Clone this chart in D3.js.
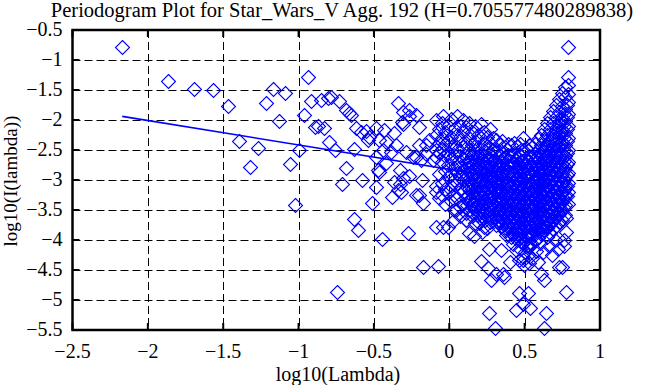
<!DOCTYPE html>
<html>
<head>
<meta charset="utf-8">
<script src="https://cdn.jsdelivr.net/npm/d3@7"></script>
<style>
  body { margin: 0; background: #fff; }
  svg { display: block; }
  text { font-family: "Liberation Serif", "Times New Roman", Times, serif; }
</style>
</head>
<body>
<div id="chart"></div>
<script>
const title = 'Periodogram Plot for Star_Wars_V Agg. 192 (H=0.705577480289838)'
const xLabel = 'log10(Lambda)'
const yLabel = 'log10(I(lambda))'
const xTicks = [-2.5, -2, -1.5, -1, -0.5, 0, 0.5, 1]
const yTicks = [-0.5, -1, -1.5, -2, -2.5, -3, -3.5, -4, -4.5, -5, -5.5]

// lower frequencies, read one by one
const sparsePts = [
  [-2.17, -0.79], [-1.869, -1.345], [-1.693, -1.48], [-1.568, -1.5], [-1.471, -1.76],
  [-1.392, -2.35], [-1.325, -2.79], [-1.267, -2.46], [-1.216, -1.71], [-1.17, -1.48],
  [-1.129, -2.02], [-1.091, -1.545], [-1.056, -2.73], [-1.024, -3.42], [-0.994, -2.5],
  [-0.966, -1.92], [-0.94, -1.28], [-0.915, -1.68], [-0.891, -2.12], [-0.869, -2.1],
  [-0.848, -1.66], [-0.828, -2.14], [-0.808, -1.63], [-0.8, -2.36], [-0.785, -1.62],
  [-0.755, -2.5], [-0.746, -4.86], [-0.73, -1.68], [-0.712, -3.06], [-0.686, -1.83],
  [-0.686, -2.8], [-0.664, -1.88], [-0.653, -1.92], [-0.63, -2.49], [-0.63, -3.65],
  [-0.62, -2.14], [-0.604, -3.84], [-0.586, -2.2], [-0.576, -3.0], [-0.553, -2.18],
  [-0.54, -2.33], [-0.53, -2.28], [-0.51, -3.38], [-0.487, -2.14], [-0.487, -2.61],
  [-0.487, -3.12], [-0.476, -2.83], [-0.465, -2.33], [-0.465, -2.86], [-0.447, -3.98],
  [-0.443, -2.5], [-0.43, -2.17], [-0.42, -2.36], [-0.42, -2.72], [-0.387, -2.53],
  [-0.383, -3.29], [-0.365, -2.22], [-0.365, -3.03], [-0.354, -2.42], [-0.343, -1.72],
  [-0.343, -3.17], [-0.33, -2.83], [-0.33, -3.06], [-0.32, -3.2], [-0.314, -2.03],
  [-0.31, -1.86], [-0.31, -2.06], [-0.31, -2.97], [-0.29, -2.53], [-0.272, -3.88],
  [-0.266, -1.83], [-0.266, -1.94], [-0.266, -2.94], [-0.243, -2.61], [-0.22, -1.92],
  [-0.22, -2.61], [-0.22, -3.25], [-0.2, -2.11], [-0.2, -2.42], [-0.2, -3.25],
  [-0.19, -2.67], [-0.18, -3.0], [-0.177, -3.39], [-0.177, -4.45], [-0.155, -2.42],
  [-0.155, -2.56], [-0.133, -2.33], [-0.11, -2.67], [-0.088, -2.0], [-0.088, -3.78],
  [-0.077, -4.44], [-0.044, -1.94], [-0.044, -3.78], [-0.01, -3.79]
]

// the dense cloud at high frequencies, column by column
const denseCols = [
  [-0.09, [-2.25, -2.5, -2.62, -3.1, -3.2]],
  [-0.07, [-2.15, -2.38, -2.55, -2.9, -3.3]],
  [-0.05, [-2.05, -2.3, -2.48, -2.7, -3.05, -3.25]],
  [-0.03, [-2.2, -2.4, -2.6, -2.85, -3.15, -3.4]],
  [-0.01, [-2.1, -2.35, -2.55, -2.75, -2.95, -3.2]],
  [0.01, [-1.98, -2.28, -2.45, -2.65, -2.9, -3.1, -3.35]],
  [0.03, [-2.15, -2.4, -2.58, -2.8, -3.0, -3.25, -3.5]],
  [0.05, [-1.94, -2.25, -2.5, -2.7, -2.88, -3.05, -3.3]],
  [0.07, [-2.1, -2.33, -2.6, -2.78, -2.95, -3.15, -3.45, -3.6]],
  [0.09, [-2.0, -2.2, -2.45, -2.65, -2.85, -3.0, -3.2, -3.4]],
  [0.11, [-2.12, -2.38, -2.55, -2.72, -2.9, -3.1, -3.3, -3.55, -3.67]],
  [0.13, [-2.05, -2.3, -2.5, -2.68, -2.82, -2.98, -3.15, -3.35, -3.5]],
  [0.15, [-2.2, -2.42, -2.6, -2.76, -2.92, -3.05, -3.22, -3.4, -3.6]],
  [0.17, [-2.1, -2.35, -2.52, -2.7, -2.86, -3.0, -3.18, -3.32, -3.48, -3.72]],
  [0.19, [-2.25, -2.45, -2.62, -2.8, -2.95, -3.1, -3.25, -3.42, -3.58]],
  [0.21, [-2.06, -2.3, -2.55, -2.72, -2.88, -3.02, -3.16, -3.3, -3.5, -3.65]],
  [0.23, [-2.2, -2.4, -2.6, -2.78, -2.92, -3.08, -3.22, -3.38, -3.55]],
  [0.25, [-2.28, -2.48, -2.66, -2.82, -2.97, -3.12, -3.28, -3.45, -3.6, -3.8]],
  [0.27, [-2.15, -2.38, -2.56, -2.72, -2.88, -3.02, -3.18, -3.34, -3.5, -3.7]],
  [0.29, [-2.3, -2.5, -2.68, -2.84, -2.98, -3.12, -3.26, -3.4, -3.56]],
  [0.31, [-2.33, -2.52, -2.7, -2.86, -3.0, -3.14, -3.3, -3.46, -3.62, -3.75]],
  [0.33, [-2.4, -2.58, -2.75, -2.9, -3.05, -3.2, -3.35, -3.5, -3.68]],
  [0.35, [-2.35, -2.55, -2.72, -2.88, -3.02, -3.17, -3.3, -3.44, -3.58, -3.72]],
  [0.37, [-2.45, -2.62, -2.8, -2.95, -3.1, -3.24, -3.38, -3.52, -3.66, -3.85]],
  [0.39, [-2.4, -2.58, -2.76, -2.92, -3.06, -3.2, -3.34, -3.48, -3.62, -3.78]],
  [0.41, [-2.42, -2.6, -2.78, -2.94, -3.08, -3.22, -3.36, -3.5, -3.64, -3.8, -3.95]],
  [0.43, [-2.38, -2.56, -2.74, -2.9, -3.04, -3.18, -3.32, -3.46, -3.6, -3.74, -3.88]],
  [0.45, [-2.44, -2.62, -2.8, -2.96, -3.1, -3.24, -3.38, -3.52, -3.66, -3.8, -4.0]],
  [0.47, [-2.4, -2.58, -2.76, -2.92, -3.06, -3.2, -3.34, -3.48, -3.62, -3.76, -3.9]],
  [0.49, [-2.3, -2.5, -2.68, -2.86, -3.0, -3.14, -3.28, -3.42, -3.56, -3.7, -3.84, -4.05]],
  [0.51, [-2.46, -2.64, -2.8, -2.95, -3.1, -3.24, -3.38, -3.52, -3.66, -3.8, -3.95]],
  [0.53, [-2.42, -2.6, -2.76, -2.92, -3.06, -3.2, -3.34, -3.48, -3.62, -3.76, -3.9, -4.1]],
  [0.55, [-2.45, -2.62, -2.78, -2.94, -3.08, -3.22, -3.36, -3.5, -3.64, -3.78, -3.92]],
  [0.57, [-2.4, -2.56, -2.72, -2.88, -3.02, -3.16, -3.3, -3.44, -3.58, -3.72, -3.86, -4.0]],
  [0.59, [-2.32, -2.5, -2.66, -2.82, -2.98, -3.12, -3.26, -3.4, -3.54, -3.68, -3.82, -3.96]],
  [0.61, [-2.25, -2.42, -2.6, -2.76, -2.92, -3.06, -3.2, -3.34, -3.48, -3.62, -3.76, -3.9]],
  [0.63, [-2.15, -2.34, -2.52, -2.7, -2.86, -3.0, -3.14, -3.28, -3.42, -3.56, -3.7, -3.84]],
  [0.65, [-2.05, -2.25, -2.44, -2.62, -2.8, -2.96, -3.1, -3.24, -3.38, -3.52, -3.66, -3.8, -3.95]],
  [0.67, [-1.95, -2.15, -2.35, -2.54, -2.72, -2.88, -3.04, -3.18, -3.32, -3.46, -3.6, -3.74, -3.88]],
  [0.69, [-1.85, -2.05, -2.26, -2.46, -2.64, -2.82, -2.98, -3.12, -3.26, -3.4, -3.54, -3.68, -3.82]],
  [0.71, [-1.75, -1.95, -2.16, -2.36, -2.56, -2.74, -2.9, -3.06, -3.2, -3.34, -3.48, -3.62, -3.76]],
  [0.73, [-1.65, -1.86, -2.06, -2.26, -2.46, -2.64, -2.82, -2.98, -3.14, -3.28, -3.42, -3.56, -3.7]],
  [0.75, [-1.55, -1.76, -1.96, -2.16, -2.36, -2.56, -2.74, -2.9, -3.06, -3.22, -3.36, -3.5, -3.66]],
  [0.77, [-1.45, -1.62, -1.82, -2.02, -2.22, -2.42, -2.6, -2.78, -2.95, -3.1, -3.26, -3.42, -3.58]],
  [0.785, [-0.79, -1.28, -1.42, -1.56, -1.7, -1.9, -2.1, -2.3, -2.5, -2.7, -2.88, -3.05, -3.2, -3.4]]
]

// the solid core of the cloud, between the columns above
const coreCols = [
  [0.12, [-2.62, -2.8, -2.95, -3.12, -3.26, -3.42]],
  [0.16, [-2.56, -2.74, -2.9, -3.08, -3.28, -3.46, -3.55]],
  [0.2, [-2.6, -2.76, -2.94, -3.06, -3.22, -3.38, -3.54]],
  [0.24, [-2.52, -2.7, -2.86, -3.04, -3.2, -3.35, -3.5, -3.66]],
  [0.28, [-2.6, -2.78, -2.93, -3.08, -3.24, -3.38, -3.53, -3.64]],
  [0.32, [-2.62, -2.8, -2.96, -3.1, -3.26, -3.4, -3.56, -3.7]],
  [0.36, [-2.64, -2.84, -2.98, -3.14, -3.28, -3.42, -3.56, -3.68, -3.8]],
  [0.4, [-2.68, -2.86, -3.0, -3.14, -3.3, -3.44, -3.57, -3.7, -3.86]],
  [0.44, [-2.66, -2.83, -2.98, -3.12, -3.27, -3.42, -3.55, -3.68, -3.84]],
  [0.48, [-2.68, -2.84, -3.0, -3.16, -3.3, -3.44, -3.58, -3.72, -3.86]],
  [0.52, [-2.7, -2.86, -3.02, -3.17, -3.31, -3.45, -3.6, -3.73, -3.86]],
  [0.56, [-2.66, -2.82, -2.98, -3.14, -3.28, -3.42, -3.56, -3.7, -3.84]],
  [0.6, [-2.58, -2.72, -2.88, -3.04, -3.2, -3.36, -3.5, -3.64, -3.8]],
  [0.64, [-2.46, -2.62, -2.78, -2.94, -3.08, -3.22, -3.36, -3.5, -3.64, -3.76]],
  [0.68, [-2.3, -2.48, -2.66, -2.82, -2.96, -3.1, -3.24, -3.38, -3.52, -3.66]],
  [0.72, [-2.1, -2.3, -2.5, -2.68, -2.84, -3.0, -3.14, -3.28, -3.42, -3.56]],
  [0.76, [-1.9, -2.1, -2.3, -2.5, -2.68, -2.84, -3.0, -3.16, -3.32, -3.46]]
]

// more of the core, the darkest part of the cloud
const coreCols2 = [
  [0.14, [-2.7, -2.87, -3.03, -3.19, -3.33]],
  [0.18, [-2.66, -2.83, -2.99, -3.15, -3.31, -3.44]],
  [0.22, [-2.68, -2.84, -2.99, -3.13, -3.29, -3.45, -3.6]],
  [0.26, [-2.63, -2.8, -2.95, -3.11, -3.27, -3.42, -3.57]],
  [0.3, [-2.69, -2.85, -3.02, -3.17, -3.33, -3.48, -3.63]],
  [0.34, [-2.7, -2.88, -3.03, -3.18, -3.33, -3.48, -3.62, -3.76]],
  [0.38, [-2.73, -2.9, -3.06, -3.21, -3.36, -3.5, -3.63, -3.77]],
  [0.42, [-2.7, -2.89, -3.05, -3.2, -3.35, -3.49, -3.62, -3.76, -3.9]],
  [0.46, [-2.74, -2.92, -3.07, -3.22, -3.36, -3.5, -3.64, -3.78, -3.92]],
  [0.5, [-2.76, -2.93, -3.09, -3.24, -3.38, -3.52, -3.66, -3.8, -3.93]],
  [0.54, [-2.74, -2.9, -3.06, -3.21, -3.35, -3.49, -3.63, -3.77, -3.9]],
  [0.58, [-2.62, -2.79, -2.95, -3.1, -3.25, -3.39, -3.53, -3.67, -3.82]],
  [0.62, [-2.52, -2.68, -2.84, -3.0, -3.15, -3.29, -3.43, -3.57, -3.71, -3.84]],
  [0.66, [-2.38, -2.55, -2.72, -2.88, -3.03, -3.17, -3.31, -3.45, -3.59, -3.73]],
  [0.7, [-2.2, -2.4, -2.58, -2.75, -2.9, -3.05, -3.19, -3.33, -3.47, -3.61]],
  [0.74, [-2.0, -2.2, -2.4, -2.59, -2.76, -2.92, -3.07, -3.22, -3.37, -3.52]],
  [0.78, [-1.75, -1.95, -2.15, -2.35, -2.55, -2.74, -2.92, -3.1, -3.26]]
]

// stragglers under and around the cloud
const lowPts = [
  [0.022, -3.69], [0.044, -3.5], [0.11, -3.67], [0.133, -3.89], [0.166, -3.94],
  [0.2, -3.72], [0.21, -4.35], [0.22, -3.86], [0.232, -3.78], [0.255, -4.47],
  [0.266, -4.15], [0.277, -4.67], [0.266, -5.21], [0.305, -5.47], [0.31, -4.56],
  [0.32, -3.67], [0.343, -4.17], [0.354, -4.57], [0.365, -4.61], [0.376, -3.92],
  [0.4, -4.37], [0.42, -4.06], [0.443, -4.17], [0.443, -5.17], [0.465, -4.33],
  [0.465, -4.89], [0.487, -4.33], [0.487, -5.06], [0.498, -4.42], [0.52, -4.89],
  [0.53, -4.11], [0.53, -4.39], [0.538, -5.14], [0.575, -4.19], [0.586, -4.36],
  [0.61, -4.56], [0.626, -5.47], [0.63, -4.67], [0.643, -5.21], [0.73, -4.45],
  [0.745, -4.45], [0.775, -4.86], [0.775, -3.64], [0.775, -3.86], [0.764, -4.0],
  [0.46, -3.98], [0.48, -4.05], [0.5, -4.0], [0.51, -4.1], [0.5, -4.2],
  [0.52, -4.25], [0.47, -4.15], [0.54, -4.05], [0.49, -4.28], [0.55, -4.3],
  [0.6, -4.05], [0.62, -4.2], [0.66, -4.1], [0.68, -4.25], [0.7, -4.0],
  [0.72, -4.15], [0.76, -4.1]
]

// least squares line ends
const fitX = [-2.17, 0.785]
const fitY = [-1.94, -3.14]

const width = 660
const height = 385
const plot = { left: 72.5, right: 600, top: 30, bottom: 330 }

const flat = cols => cols.flatMap(c => c[1].map(v => [c[0], v]))
const points = sparsePts.concat(flat(denseCols), flat(coreCols), flat(coreCols2), lowPts)

const x = d3.scaleLinear().domain([-2.5, 1]).range([plot.left, plot.right])
const y = d3.scaleLinear().domain([-5.5, -0.5]).range([plot.bottom, plot.top])

const svg = d3.select('#chart').append('svg')
  .attr('width', width).attr('height', height)

// grid
svg.append('g')
  .attr('stroke', '#000').attr('stroke-width', 1).attr('stroke-dasharray', '8,4')
  .selectAll('line')
  .data(xTicks.slice(1, -1))
  .join('line')
  .attr('x1', d => Math.round(x(d)) + 0.5).attr('x2', d => Math.round(x(d)) + 0.5)
  .attr('y1', plot.top).attr('y2', plot.bottom)

svg.append('g')
  .attr('stroke', '#000').attr('stroke-width', 1).attr('stroke-dasharray', '8,4')
  .selectAll('line')
  .data(yTicks.slice(1, -1))
  .join('line')
  .attr('y1', d => Math.round(y(d)) + 0.5).attr('y2', d => Math.round(y(d)) + 0.5)
  .attr('x1', plot.left).attr('x2', plot.right)

// points
const r = 7
svg.append('g')
  .attr('fill', 'none').attr('stroke', '#0000ff').attr('stroke-width', 1.1)
  .selectAll('path')
  .data(points)
  .join('path')
  .attr('d', d => {
    const cx = Math.round(x(d[0])) + 0.5, cy = Math.round(y(d[1])) + 0.5
    return `M${cx},${cy - r}L${cx + r},${cy}L${cx},${cy + r}L${cx - r},${cy}Z`
  })

// fit
svg.append('path')
  .datum(fitX.map((v, i) => [v, fitY[i]]))
  .attr('fill', 'none').attr('stroke', '#0000ff').attr('stroke-width', 1.6)
  .attr('d', d3.line().x(d => x(d[0])).y(d => y(d[1])))

// inward ticks on all sides
const tk = 7
const ticks = svg.append('g').attr('stroke', '#000').attr('stroke-width', 2)
ticks.selectAll('.tl').data(yTicks).join('line')
  .attr('x1', plot.left).attr('x2', plot.left + tk)
  .attr('y1', d => y(d)).attr('y2', d => y(d))
ticks.selectAll('.tr').data(yTicks).join('line')
  .attr('x1', plot.right).attr('x2', plot.right - tk)
  .attr('y1', d => y(d)).attr('y2', d => y(d))
ticks.selectAll('.tb').data(xTicks).join('line')
  .attr('y1', plot.bottom).attr('y2', plot.bottom - tk)
  .attr('x1', d => x(d)).attr('x2', d => x(d))
ticks.selectAll('.tt').data(xTicks).join('line')
  .attr('y1', plot.top).attr('y2', plot.top + tk)
  .attr('x1', d => x(d)).attr('x2', d => x(d))

// frame
svg.append('rect')
  .attr('x', plot.left).attr('y', plot.top)
  .attr('width', plot.right - plot.left).attr('height', plot.bottom - plot.top)
  .attr('fill', 'none').attr('stroke', '#000').attr('stroke-width', 2.5)

const fmt = d3.format('')
const fs = '20px'

svg.append('g')
  .style('font-size', fs)
  .selectAll('text')
  .data(yTicks)
  .join('text')
  .attr('x', plot.left - 10)
  .attr('y', d => y(d))
  .attr('dy', '0.32em')
  .attr('text-anchor', 'end')
  .text(fmt)

svg.append('g')
  .style('font-size', fs)
  .selectAll('text')
  .data(xTicks)
  .join('text')
  .attr('x', d => x(d))
  .attr('y', plot.bottom + 28)
  .attr('text-anchor', 'middle')
  .text(fmt)

svg.append('text')
  .attr('x', 338).attr('y', 381)
  .attr('text-anchor', 'middle')
  .style('font-size', fs)
  .text(xLabel)

svg.append('text')
  .attr('transform', 'translate(17,181) rotate(-90)')
  .attr('text-anchor', 'middle')
  .style('font-size', '19px')
  .text(yLabel)

svg.append('text')
  .attr('x', 342).attr('y', 17)
  .attr('text-anchor', 'middle')
  .style('font-size', '20.5px')
  .text(title)
</script>
</body>
</html>
